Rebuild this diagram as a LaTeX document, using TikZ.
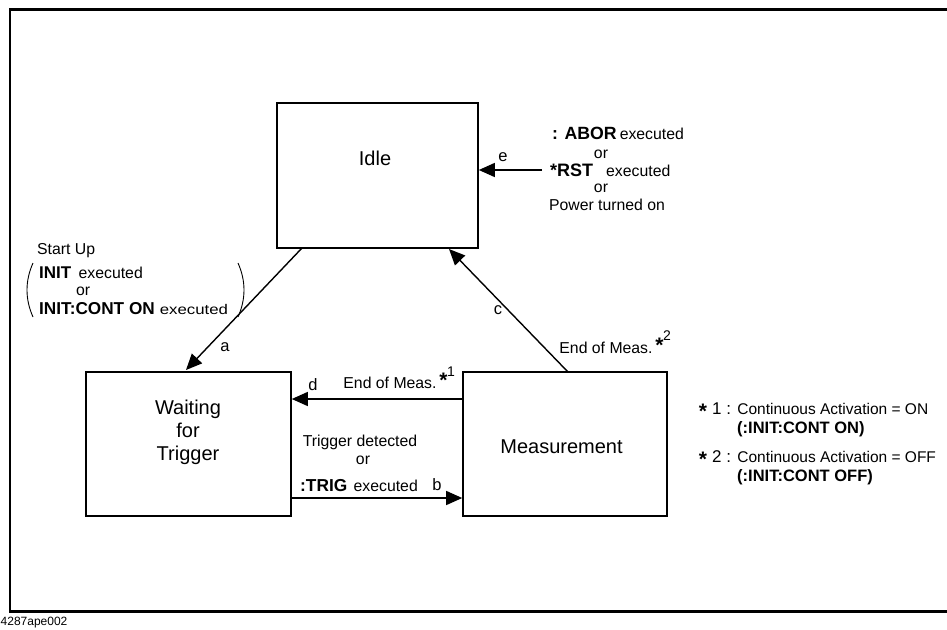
\documentclass[tikz,border=0pt]{standalone}
\usepackage{fontspec}
\setmainfont{Liberation Sans}
\usetikzlibrary{arrows.meta}
\begin{document}
\begin{tikzpicture}[x=1pt,y=-1pt,
  statebox/.style={draw,line width=1.6pt,inner sep=0pt},
  conn/.style={line width=1.4pt,-{Triangle[length=16pt,width=14pt]}},
  big/.style={font=\fontsize{20}{23}\selectfont,align=center},
  small/.style={font=\fontsize{15.8}{18}\selectfont,align=center,inner sep=0pt},
  lbl/.style={font=\fontsize{16.5}{18}\selectfont,inner sep=0pt},
  bstar/.style={font=\fontsize{21}{21}\selectfont\bfseries,inner sep=0pt},
  sup/.style={font=\fontsize{14}{14}\selectfont,inner sep=0pt},
  legrow/.style={inner sep=0pt,anchor=base west,text depth=0pt}]
\useasboundingbox (0,0) rectangle (947,629);
% frame
\draw[line width=2.8pt] (948,9.5) -- (10,9.5) -- (10,611.5) -- (948,611.5);
% state boxes
\node[statebox,minimum width=201pt,minimum height=145pt] (idle) at (377.5,175.5) {};
\node[big] (idletxt) at (375,158) {Idle};
\node[statebox,minimum width=205pt,minimum height=144pt] (wait) at (188.5,444) {};
\node[big] (waittxt) at (188,432) {Waiting\\for\\Trigger};
\node[statebox,minimum width=204pt,minimum height=144pt] (meas) at (565,444) {};
\node[big] (meastxt) at (561.5,447) {Measurement};
% connector anchors
\coordinate (aS) at (302,248);
\coordinate (aE) at (186,370);
\coordinate (cS) at (568,372);
\coordinate (cE) at (449,249);
\coordinate (eS) at (542,170);
\draw[conn] (aS) -- (aE);
\draw[conn] (cS) -- (cE);
\draw[conn] (eS) -- (idle.east |- eS);
\draw[conn] (meas.west |- 0,399) -- (wait.east |- 0,399);
\draw[conn] (wait.east |- 0,498) -- (meas.west |- 0,498);
% connector letters
\node[lbl] (la) at (225,347) {a};
\node[lbl] (lb) at (437,485) {b};
\node[lbl] (lc) at (498,310) {c};
\node[lbl] (ld) at (313,385) {d};
\node[lbl] (le) at (503,157) {e};
% labels between the lower boxes
\node[small] (endm1) at (390,383) {End of Meas.};
\node[bstar] (st1) at (443.5,380) {*};
\node[sup] (n1) at (451,372) {1};
\node[small] (trg) at (360,442) {Trigger detected};
\node[small] (trgor) at (363,460) {or};
\node[small] (trig) at (359,486) {\textbf{\fontsize{17.3}{17}\selectfont :TRIG}\hspace{2pt} executed};
% label of c
\node[small] (endm2) at (606,348) {End of Meas.};
\node[bstar] (st2) at (659.5,345) {*};
\node[sup] (n2) at (667,336) {2};
% labels of e
\node[small,anchor=west] (abor) at (552,133) {\textbf{\fontsize{17.7}{17}\selectfont : ABOR}\hspace{3pt}executed};
\node[small] (or1) at (601,154) {or};
\node[small,anchor=west] (rst) at (550,170) {\textbf{\fontsize{18}{17}\selectfont *RST}\hspace{13pt}executed};
\node[small] (or2) at (601,188) {or};
\node[small] (pwr) at (607,205) {Power turned on};
% start up annotation
\node[small,anchor=west] (su) at (37,251) {Start Up};
\node[small,anchor=west] (init) at (39,273) {\textbf{\fontsize{17}{17}\selectfont INIT}\hspace{3pt} executed};
\node[small,anchor=west] (initor) at (76,291) {or};
\node[small,anchor=west] (initc) at (39,309) {\textbf{\fontsize{17.2}{17}\selectfont INIT:CONT ON}\hspace{5pt}{\fontsize{14}{14}\selectfont\scalebox{1.2}[1]{executed}}};
\draw[line width=0.9pt] (33,263) .. controls (25,281) and (25,299) .. (33,317);
\draw[line width=0.9pt] (238,263) .. controls (246,281) and (246,299) .. (238,317);
% legend
\node[bstar] (l1s) at (703,411) {*};
\node[legrow] (l1) at (712,414) {\fontsize{17}{17}\selectfont 1 : \fontsize{15.5}{17}\selectfont Continuous Activation = ON};
\node[inner sep=0pt,anchor=base west] (l1b) at (737,433) {\bfseries\fontsize{16.5}{17}\selectfont (:INIT:CONT ON)};
\node[bstar] (l2s) at (703,459) {*};
\node[legrow] (l2) at (712,462) {\fontsize{17}{17}\selectfont 2 : \fontsize{15.5}{17}\selectfont Continuous Activation = OFF};
\node[inner sep=0pt,anchor=base west] (l2b) at (737,481) {\bfseries\fontsize{16.5}{17}\selectfont (:INIT:CONT OFF)};
% caption
\node[font=\fontsize{12}{14}\selectfont,anchor=west,inner sep=0pt] (cap) at (0.5,622.5) {4287ape002};
\end{tikzpicture}
\end{document}
